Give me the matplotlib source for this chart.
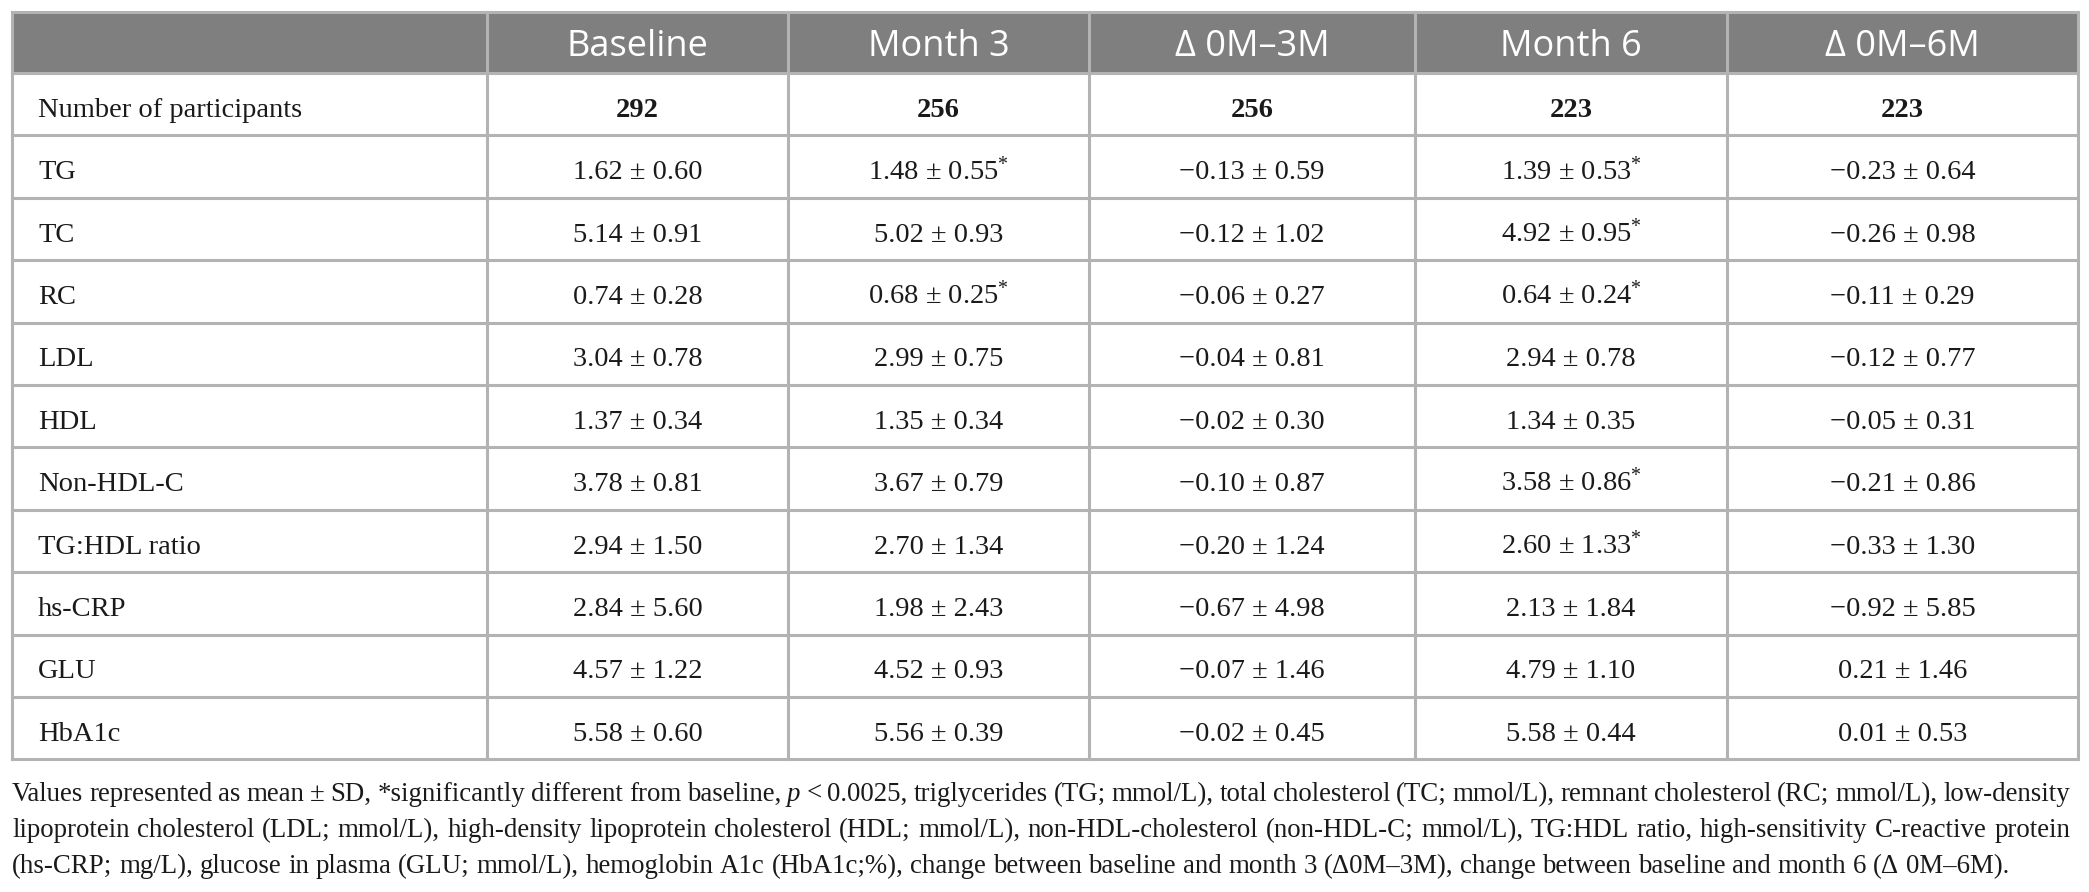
import matplotlib
matplotlib.use("Agg")
import matplotlib.pyplot as plt
from matplotlib.patches import Rectangle

plt.rcParams['mathtext.fontset'] = 'custom'
plt.rcParams['mathtext.rm'] = 'Liberation Serif'
plt.rcParams['mathtext.it'] = 'Liberation Serif:italic'
plt.rcParams['mathtext.bf'] = 'Liberation Serif:bold'

# ---------------- data ----------------
columns = ["Baseline", "Month 3", "Δ 0M–3M", "Month 6", "Δ 0M–6M"]
participants = [292, 256, 256, 223, 223]
row_labels = ["TG", "TC", "RC", "LDL", "HDL", "Non-HDL-C", "TG:HDL ratio",
              "hs-CRP", "GLU", "HbA1c"]

baseline_mean = [1.62, 5.14, 0.74, 3.04, 1.37, 3.78, 2.94, 2.84, 4.57, 5.58]
baseline_sd   = [0.60, 0.91, 0.28, 0.78, 0.34, 0.81, 1.50, 5.60, 1.22, 0.60]
month3_mean   = [1.48, 5.02, 0.68, 2.99, 1.35, 3.67, 2.70, 1.98, 4.52, 5.56]
month3_sd     = [0.55, 0.93, 0.25, 0.75, 0.34, 0.79, 1.34, 2.43, 0.93, 0.39]
month3_sig    = [1, 0, 1, 0, 0, 0, 0, 0, 0, 0]
d03_mean      = [-0.13, -0.12, -0.06, -0.04, -0.02, -0.10, -0.20, -0.67, -0.07, -0.02]
d03_sd        = [0.59, 1.02, 0.27, 0.81, 0.30, 0.87, 1.24, 4.98, 1.46, 0.45]
month6_mean   = [1.39, 4.92, 0.64, 2.94, 1.34, 3.58, 2.60, 2.13, 4.79, 5.58]
month6_sd     = [0.53, 0.95, 0.24, 0.78, 0.35, 0.86, 1.33, 1.84, 1.10, 0.44]
month6_sig    = [1, 1, 1, 0, 0, 1, 1, 0, 0, 0]
d06_mean      = [-0.23, -0.26, -0.11, -0.12, -0.05, -0.21, -0.33, -0.92, 0.21, 0.01]
d06_sd        = [0.64, 0.98, 0.29, 0.77, 0.31, 0.86, 1.30, 5.85, 1.46, 0.53]
no_sig        = [0] * 10

footnote_lines = [
    "Values represented as mean ± SD, *significantly different from baseline, p < 0.0025, "
    "triglycerides (TG; mmol/L), total cholesterol (TC; mmol/L), remnant cholesterol (RC; mmol/L), low-density",
    "lipoprotein cholesterol (LDL; mmol/L), high-density lipoprotein cholesterol (HDL; mmol/L), "
    "non-HDL-cholesterol (non-HDL-C; mmol/L), TG:HDL ratio, high-sensitivity C-reactive protein",
    "(hs-CRP; mg/L), glucose in plasma (GLU; mmol/L), hemoglobin A1c (HbA1c;%), change between "
    "baseline and month 3 (Δ0M–3M), change between baseline and month 6 (Δ 0M–6M).",
]

# ---------------- layout ----------------
W, H = 2089, 892
fig = plt.figure(figsize=(W / 100, H / 100), dpi=100)
ax = fig.add_axes([0, 0, 1, 1])
ax.set_xlim(0, W)
ax.set_ylim(H, 0)
ax.axis('off')

col_edges = [12, 487, 788, 1089, 1415, 1727, 2078]
top = 12
header_h = 61
row_h = 62.4
n_rows = 1 + len(row_labels)
bottom = top + header_h + n_rows * row_h

grid_col = '#b3b3b3'
head_bg = '#7f7f7f'
serif = 'Liberation Serif'
sans = 'Open Sans'
body_fs = 20.5
head_fs = 26

# header background
ax.add_patch(Rectangle((col_edges[0], top), col_edges[-1] - col_edges[0], header_h,
                       facecolor=head_bg, edgecolor='none', zorder=1))

# grid lines
ys = [top, top + header_h] + [top + header_h + (i + 1) * row_h for i in range(n_rows)]
for y in ys:
    ax.plot([col_edges[0], col_edges[-1]], [y, y], color=grid_col, lw=2.2,
            solid_capstyle='projecting', zorder=3)
for x in col_edges:
    ax.plot([x, x], [top, bottom], color=grid_col, lw=2.2,
            solid_capstyle='projecting', zorder=3)

# header text
for j, name in enumerate(columns):
    cx = (col_edges[j + 1] + col_edges[j + 2]) / 2
    ax.text(cx, top + header_h / 2 + 13, name, ha='center', va='baseline',
            fontsize=head_fs, family=sans, color='white', zorder=4)


def fmt(v):
    s = f"{abs(v):.2f}"
    return ("−" + s) if v < 0 else s


def row_baseline(i):
    return top + header_h + i * row_h + row_h / 2 + 12.5


# participants row
ax.text(38, row_baseline(0), "Number of participants", ha='left', va='baseline',
        fontsize=body_fs, family=serif, color='#1a1a1a', zorder=4)
for j, n in enumerate(participants):
    cx = (col_edges[j + 1] + col_edges[j + 2]) / 2
    ax.text(cx, row_baseline(0), str(n), ha='center', va='baseline', fontsize=body_fs,
            family=serif, weight='bold', color='#1a1a1a', zorder=4)

series = [(baseline_mean, baseline_sd, no_sig),
          (month3_mean, month3_sd, month3_sig),
          (d03_mean, d03_sd, no_sig),
          (month6_mean, month6_sd, month6_sig),
          (d06_mean, d06_sd, no_sig)]

for i, lab in enumerate(row_labels):
    yb = row_baseline(i + 1)
    ax.text(38, yb, lab, ha='left', va='baseline', fontsize=body_fs, family=serif,
            color='#1a1a1a', zorder=4)
    for j, (m, s, sig) in enumerate(series):
        cx = (col_edges[j + 1] + col_edges[j + 2]) / 2
        txt = f"{fmt(m[i])} ± {fmt(s[i])}"
        if sig[i]:
            txt += r"$^{*}$"
        ax.text(cx, yb, txt, ha='center', va='baseline', fontsize=body_fs,
                family=serif, color='#1a1a1a', zorder=4)

# ---------------- footnote (justified) ----------------
fig.canvas.draw()
rend = fig.canvas.get_renderer()


def text_w(s, fs, style='normal'):
    t = ax.text(0, 0, s, fontsize=fs, family=serif, style=style)
    w = t.get_window_extent(renderer=rend).width
    t.remove()
    return w


# calibrate size so the last line spans its measured width
target_last = 2005
fs0 = 18
foot_fs = fs0 * target_last / text_w(footnote_lines[2], fs0)
left, right = col_edges[0], col_edges[-1] - 8
baselines = [801, 837, 873]

for li, line in enumerate(footnote_lines):
    words = line.split(' ')
    styles = ['italic' if w == 'p' else 'normal' for w in words]
    widths = [text_w(w, foot_fs, st) for w, st in zip(words, styles)]
    if li < len(footnote_lines) - 1:
        gap = (right - left - sum(widths)) / (len(words) - 1)
    else:
        gap = text_w('a a', foot_fs) - text_w('aa', foot_fs)
    x = left
    for w, st, wd in zip(words, styles, widths):
        ax.text(x, baselines[li], w, ha='left', va='baseline', fontsize=foot_fs,
                family=serif, style=st, color='#1a1a1a')
        x += wd + gap

fig.savefig('out.png', dpi=100, facecolor='white')
